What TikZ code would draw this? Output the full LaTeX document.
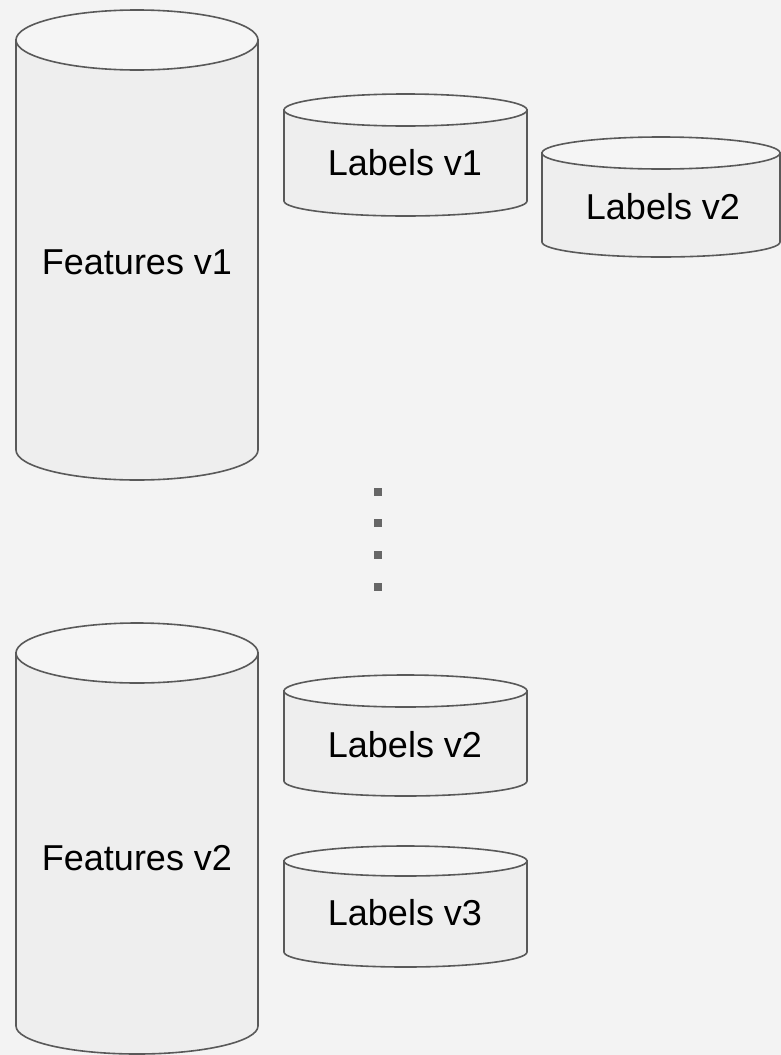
\documentclass[tikz,border=0pt]{standalone}
\usepackage{fontspec}
\setmainfont{Liberation Sans}
\definecolor{bg}{HTML}{F3F3F3}
\definecolor{cylline}{HTML}{595959}
\definecolor{cylbodyfill}{HTML}{EEEEEE}
\definecolor{cyltopfill}{HTML}{F5F5F5}
\definecolor{dotgray}{HTML}{666666}
\tikzset{
  cylwall/.style={draw=cylline, fill=cylbodyfill, line width=1.6pt},
  cyllid/.style={draw=cylline, fill=cyltopfill, line width=1.6pt},
  cyltext/.style={font=\fontsize{36}{43}\selectfont, text=black, inner sep=0pt},
  ellipsisdot/.style={fill=dotgray, draw=none, minimum size=8pt, inner sep=0pt}
}
% storage cylinder: #1 left x, #2 right x, #3 lid centre y, #4 base centre y,
% #5 lid half-height, #6 base half-height (y measured downwards)
\newcommand\storecyl[6]{%
  \pgfmathsetmacro\cylrx{(#2-#1)/2}%
  \pgfmathsetmacro\cylcx{(#1+#2)/2}%
  \filldraw[cylwall] (#1,-#3) -- (#1,-#4)
    arc[start angle=180, end angle=360, x radius=\cylrx pt, y radius=#6 pt]
    -- (#2,-#3) -- cycle;
  \filldraw[cyllid] (\cylcx,-#3) ellipse[x radius=\cylrx pt, y radius=#5 pt];
}
\begin{document}
\begin{tikzpicture}[x=1pt, y=1pt]
  \fill[bg] (0,0) rectangle (781,-1055);
  \useasboundingbox (0,0) rectangle (781,-1055);

  % feature stores
  \storecyl{16}{258}{40}{450}{30}{30}
  \node[cyltext] (feat1) at (137,-262) {Features v1};
  \storecyl{16}{258}{653}{1026}{30}{28}
  \node[cyltext] (feat2) at (137,-858) {Features v2};

  % label stores
  \storecyl{284}{527}{110}{201}{16}{15}
  \node[cyltext] (lab1) at (405,-163) {Labels v1};
  \storecyl{542}{780}{153}{242}{16}{15}
  \node[cyltext] (lab2a) at (663,-207) {Labels v2};
  \storecyl{284}{527}{691}{781}{16}{15}
  \node[cyltext] (lab2b) at (405,-745) {Labels v2};
  \storecyl{284}{527}{861}{952}{15}{15}
  \node[cyltext] (lab3) at (405,-913) {Labels v3};

  % vertical ellipsis
  \node[ellipsisdot] (dot1) at (378,-492) {};
  \node[ellipsisdot] (dot2) at (378,-523) {};
  \node[ellipsisdot] (dot3) at (378,-555) {};
  \node[ellipsisdot] (dot4) at (378,-587) {};
\end{tikzpicture}
\end{document}
